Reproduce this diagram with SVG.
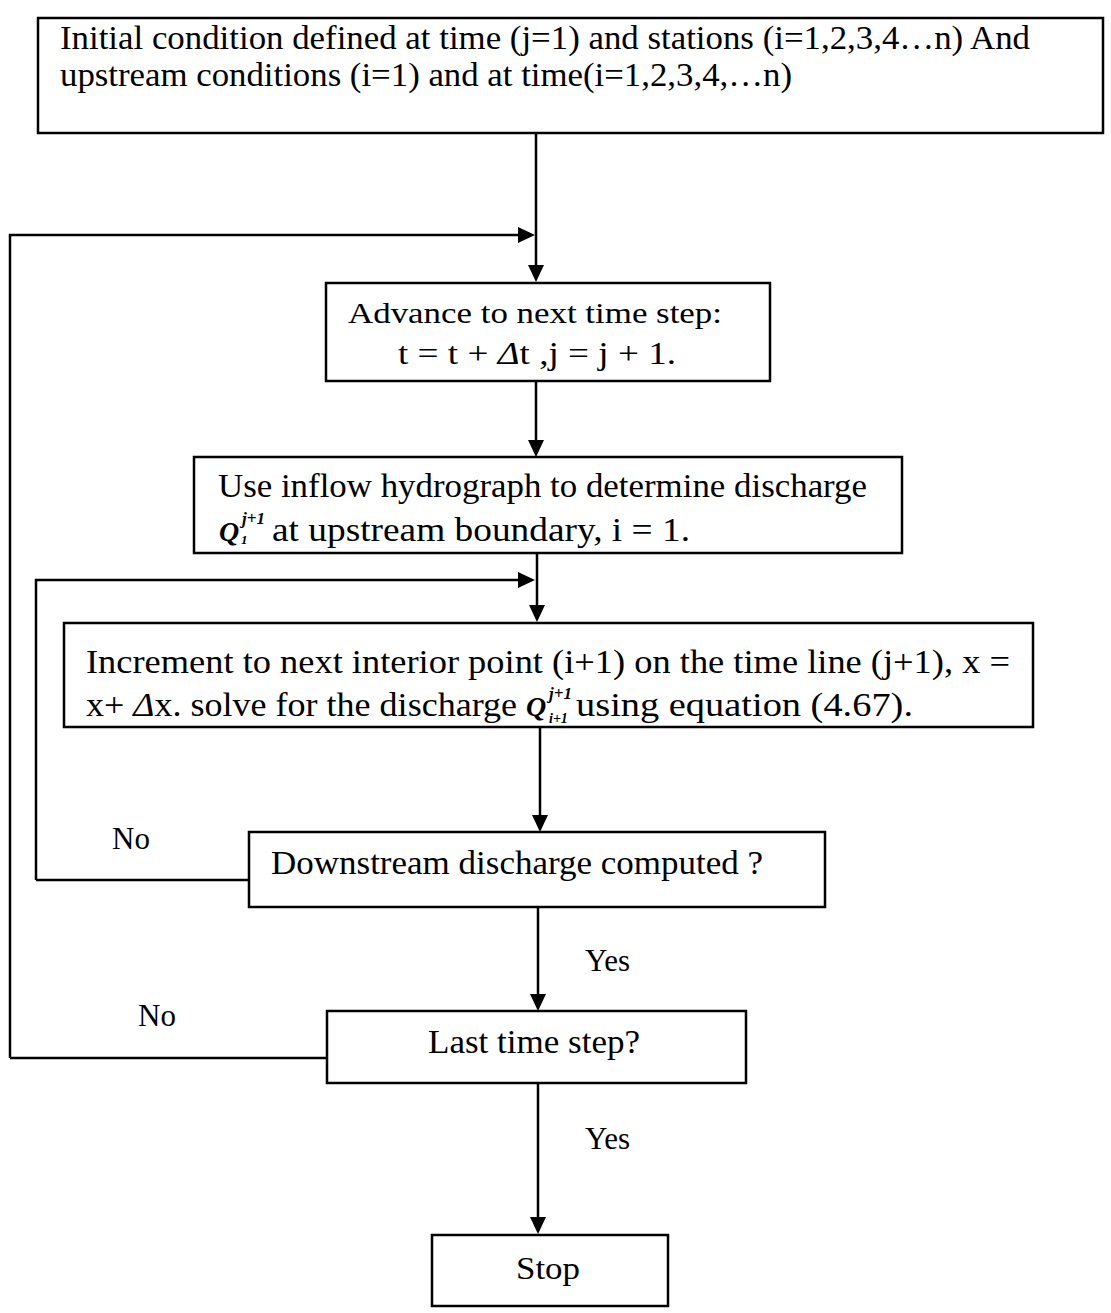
<svg xmlns="http://www.w3.org/2000/svg" width="1111" height="1313" viewBox="0 0 1111 1313">
<defs>
<style>
.box{fill:#fff;stroke:#000;stroke-width:2.5}
.ln{fill:none;stroke:#000;stroke-width:2.5}
.ah{fill:#000}
text{font-family:"Liberation Serif","Times New Roman",serif;font-size:30px;fill:#000}
.c{font-size:33px}
.q{font-style:italic;font-weight:bold;font-size:28px}
.s{font-size:17px;font-style:italic;font-weight:bold}
.d{font-style:italic}
</style>
</defs>
<rect width="1111" height="1313" fill="#fff"/>
<g id="connectors">
<path class="ln" d="M536,133 V266"/>
<path class="ah" d="M528,265 L544,265 L536,282 Z"/>
<path class="ln" d="M10,1058 V235 H520"/>
<path class="ah" d="M518,227 L535,235 L518,243 Z"/>
<path class="ln" d="M536,381 V441"/>
<path class="ah" d="M528,440 L544,440 L536,457 Z"/>
<path class="ln" d="M537,553 V606"/>
<path class="ah" d="M529,605 L545,605 L537,622 Z"/>
<path class="ln" d="M36,880 V580 H520"/>
<path class="ah" d="M518,572 L535,580 L518,588 Z"/>
<path class="ln" d="M36,880 H249"/>
<path class="ln" d="M540,727 V816"/>
<path class="ah" d="M532,815 L548,815 L540,832 Z"/>
<path class="ln" d="M538,907 V995"/>
<path class="ah" d="M530,994 L546,994 L538,1011 Z"/>
<path class="ln" d="M10,1058 H327"/>
<path class="ln" d="M538,1083 V1218"/>
<path class="ah" d="M530,1217 L546,1217 L538,1234 Z"/>
</g>
<g id="n1">
<rect class="box" x="38" y="18" width="1065" height="115"/>
<text class="c" x="60" y="49" textLength="970" lengthAdjust="spacingAndGlyphs">Initial condition defined at time (j=1) and stations (i=1,2,3,4…n) And</text>
<text class="c" x="60" y="86" textLength="732" lengthAdjust="spacingAndGlyphs">upstream conditions (i=1) and at time(i=1,2,3,4,…n)</text>
</g>
<g id="n2">
<rect class="box" x="326" y="283" width="444" height="98"/>
<text x="348" y="323" textLength="374" lengthAdjust="spacingAndGlyphs">Advance to next time step:</text>
<text x="398" y="364" style="font-size:32px" textLength="278" lengthAdjust="spacingAndGlyphs">t = t +  <tspan class="d">Δ</tspan>t ,j = j + 1.</text>
</g>
<g id="n3">
<rect class="box" x="194" y="457" width="708" height="96"/>
<text class="c" x="218" y="497" textLength="649" lengthAdjust="spacingAndGlyphs">Use inflow hydrograph to determine discharge</text>
<text class="q" x="219" y="541">Q</text>
<text class="s" x="242" y="524">j+1</text>
<text class="s" x="241" y="544" style="font-size:13px">1</text>
<text class="c" x="272" y="541" textLength="418" lengthAdjust="spacingAndGlyphs">at upstream boundary, i = 1.</text>
</g>
<g id="n4">
<rect class="box" x="64" y="623" width="969" height="104"/>
<text class="c" x="86" y="673" textLength="924" lengthAdjust="spacingAndGlyphs">Increment to next interior point (i+1) on the time line (j+1), x =</text>
<text class="c" x="86" y="716" textLength="431" lengthAdjust="spacingAndGlyphs">x+ <tspan class="d">Δ</tspan>x. solve for the discharge</text>
<text class="q" x="526" y="716">Q</text>
<text class="s" x="549" y="699">j+1</text>
<text class="s" x="549" y="723" style="font-size:14px">i+1</text>
<text class="c" x="576" y="716" textLength="337" lengthAdjust="spacingAndGlyphs">using equation (4.67).</text>
</g>
<g id="n5">
<rect class="box" x="249" y="832" width="576" height="75"/>
<text class="c" x="271" y="874" textLength="492" lengthAdjust="spacingAndGlyphs">Downstream discharge computed ?</text>
</g>
<g id="n6">
<rect class="box" x="327" y="1011" width="419" height="72"/>
<text class="c" x="428" y="1053" textLength="212" lengthAdjust="spacingAndGlyphs">Last time step?</text>
</g>
<g id="n7">
<rect class="box" x="432" y="1235" width="236" height="71"/>
<text x="516" y="1279" style="font-size:32px" textLength="64" lengthAdjust="spacingAndGlyphs">Stop</text>
</g>
<g id="labels">
<text x="112" y="849" style="font-size:31px">No</text>
<text x="585" y="971" style="font-size:31px">Yes</text>
<text x="138" y="1026" style="font-size:31px">No</text>
<text x="585" y="1149" style="font-size:31px">Yes</text>
</g>
</svg>
